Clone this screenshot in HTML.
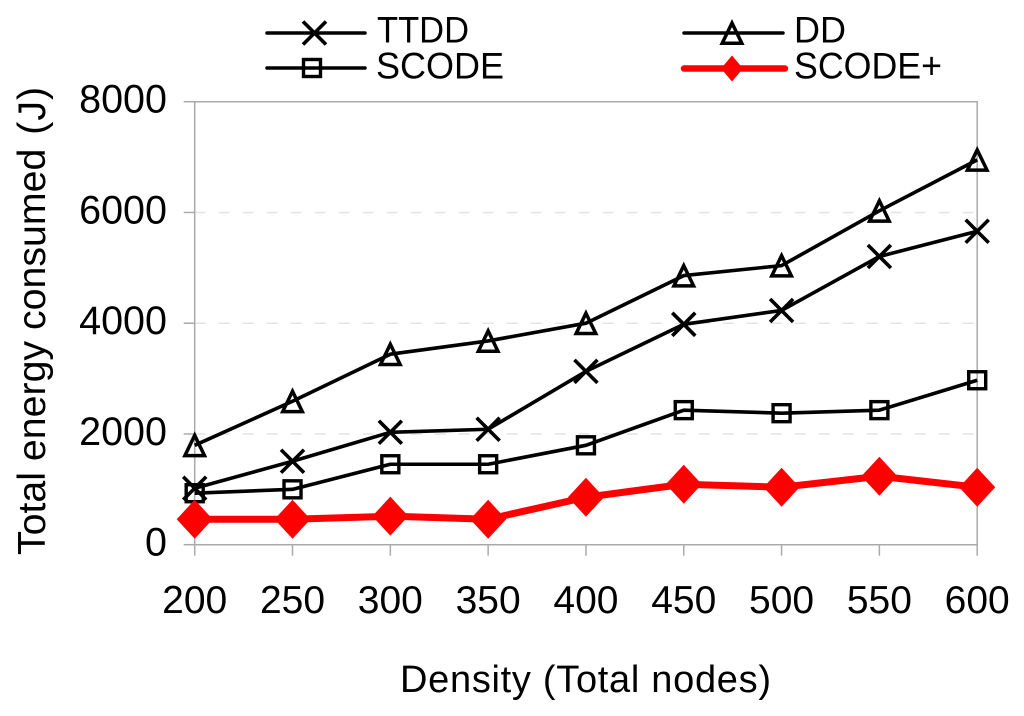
<!DOCTYPE html>
<html>
<head>
<meta charset="utf-8">
<style>
html,body{margin:0;padding:0;background:#fff;width:1024px;height:716px;overflow:hidden}
svg{display:block}
text{font-family:"Liberation Sans",sans-serif;fill:#000}
</style>
</head>
<body>
<svg id="chart" width="1024" height="716" viewBox="0 0 1024 716" xmlns="http://www.w3.org/2000/svg">
  <g id="grid"></g>
  <g id="axes"></g>
  <g id="series"></g>
  <text transform="translate(45,555) rotate(-90)" font-size="39.3">Total energy consumed <tspan dx="3">(</tspan><tspan dx="1">J</tspan><tspan dx="1">)</tspan></text>
  <text x="400" y="692" font-size="38" textLength="371" lengthAdjust="spacing">Density (Total nodes)</text>
  <g id="legend">
    <text x="377" y="42.5" font-size="37.5" textLength="92" lengthAdjust="spacingAndGlyphs">TTDD</text>
    <text x="376" y="78.5" font-size="37.5" textLength="128" lengthAdjust="spacingAndGlyphs">SCODE</text>
    <text x="794" y="42.5" font-size="37.5" textLength="52" lengthAdjust="spacingAndGlyphs">DD</text>
    <text x="794" y="78.5" font-size="37.5" textLength="148" lengthAdjust="spacingAndGlyphs">SCODE+</text>
  </g>
</svg>
<script>
var categories = [200, 250, 300, 350, 400, 450, 500, 550, 600];
var yTicks = [0, 2000, 4000, 6000, 8000];
var ddValues = [1795, 2590, 3440, 3680, 4000, 4860, 5040, 6030, 6950];
var ttddValues = [1020, 1507, 2030, 2085, 3130, 3980, 4230, 5205, 5660];
var scodeValues = [930, 1000, 1453, 1453, 1795, 2430, 2375, 2430, 2970];
var scodePlusValues = [460, 460, 515, 460, 857, 1092, 1038, 1236, 1038];

var NS = 'http://www.w3.org/2000/svg';
var plotLeft = 194.7, plotRight = 977.2, plotTop = 101.7, plotBottom = 544.7;
function xScale(i) { return plotLeft + (plotRight - plotLeft) * i / (categories.length - 1); }
function yScale(v) { return plotBottom - (plotBottom - plotTop) * v / 8000; }

function make(parent, tag, attrs) {
  var el = document.createElementNS(NS, tag);
  for (var k in attrs) el.setAttribute(k, attrs[k]);
  parent.appendChild(el);
  return el;
}

function drawMarker(parent, kind, x, y, name, dw, dh) {
  var g = make(parent, 'g', {});
  
  
  if (kind === 'x') {
    make(g, 'path', {d: 'M' + (x - 11.5) + ' ' + (y - 11.5) + 'L' + (x + 11.5) + ' ' + (y + 11.5) + 'M' + (x - 11.5) + ' ' + (y + 11.5) + 'L' + (x + 11.5) + ' ' + (y - 11.5), stroke: '#000', 'stroke-width': 3.6, fill: 'none'});
  } else if (kind === 'tri') {
    make(g, 'path', {d: 'M' + x + ' ' + (y - 10) + 'L' + (x + 9.8) + ' ' + (y + 10.3) + 'L' + (x - 9.8) + ' ' + (y + 10.3) + 'Z', stroke: '#000', 'stroke-width': 3.5, fill: 'none', 'stroke-linejoin': 'miter'});
  } else if (kind === 'sq') {
    make(g, 'rect', {x: x - 8.5, y: y - 8.5, width: 17, height: 17, stroke: '#000', 'stroke-width': 3.4, fill: 'none'});
  } else {
    make(g, 'path', {d: 'M' + x + ' ' + (y - dh) + 'L' + (x + dw) + ' ' + y + 'L' + x + ' ' + (y + dh) + 'L' + (x - dw) + ' ' + y + 'Z', fill: '#f00'});
  }
}

var gridG = document.getElementById('grid');
var axesG = document.getElementById('axes');
var seriesG = document.getElementById('series');
var legendG = document.getElementById('legend');

yTicks.forEach(function (t) {
  var y = yScale(t);
  if (t !== 0 && t !== 8000) {
    var gl = make(gridG, 'line', {x1: plotLeft, x2: plotRight, y1: y, y2: y, stroke: '#e4e4e4', 'stroke-width': 1.5, 'stroke-dasharray': '11 13'});
    
    
  }
  var tk = make(axesG, 'line', {x1: plotLeft - 11, x2: plotLeft, y1: y, y2: y, stroke: '#aaa', 'stroke-width': 1.5});
  
  
  var lb = make(axesG, 'text', {x: 167, y: y + 11, 'font-size': 39.5, 'text-anchor': 'end'});
  lb.textContent = t;
  
  
});

var frame = make(axesG, 'path', {d: 'M' + plotLeft + ' ' + plotTop + 'H' + plotRight + 'V' + plotBottom + 'H' + plotLeft + 'Z', fill: 'none', stroke: '#aaa', 'stroke-width': 1.5});



categories.forEach(function (c, i) {
  var x = xScale(i);
  var tk = make(axesG, 'line', {x1: x, x2: x, y1: plotBottom, y2: plotBottom + 11, stroke: '#aaa', 'stroke-width': 1.5});
  
  
  var lb = make(axesG, 'text', {x: x, y: 613, 'font-size': 39, 'text-anchor': 'middle'});
  lb.textContent = c;
  
  
});

function drawSeries(values, kind, color, width, name) {
  var g = make(seriesG, 'g', {});
  
  
  var pts = values.map(function (v, i) { return xScale(i) + ',' + yScale(v); }).join(' ');
  var line = make(g, 'polyline', {points: pts, fill: 'none', stroke: color, 'stroke-width': width, 'stroke-linejoin': 'round'});
  
  
  values.forEach(function (v, i) {
    drawMarker(g, kind, xScale(i), yScale(v), 'point-' + name + '-' + categories[i], 18, 19.5);
  });
}

drawSeries(ddValues, 'tri', '#000', 3.6, 'dd');
drawSeries(ttddValues, 'x', '#000', 3.6, 'ttdd');
drawSeries(scodeValues, 'sq', '#000', 3.6, 'scode');
drawSeries(scodePlusValues, 'dia', '#f00', 7, 'scode-plus');

function legendKey(x1, x2, y, mx, kind, color, width, name) {
  var g = make(legendG, 'g', {});
  
  
  make(g, 'line', {x1: x1, x2: x2, y1: y, y2: y, stroke: color, 'stroke-width': width, 'stroke-linecap': 'round'});
  drawMarker(g, kind, mx, y, 'legend-marker-' + name, 11, 13);
}
legendKey(267, 365, 33, 314.5, 'x', '#000', 3.5, 'ttdd');
legendKey(267, 365, 68, 312, 'sq', '#000', 3.5, 'scode');
legendKey(684, 783, 33, 732, 'tri', '#000', 3.5, 'dd');
legendKey(684, 785, 68.5, 732, 'dia', '#f00', 6.5, 'scode-plus');
</script>
</body>
</html>
